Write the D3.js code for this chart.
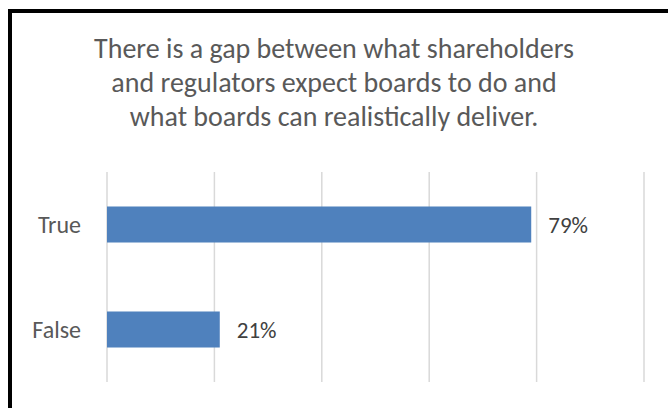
<!DOCTYPE html>
<html>
<head>
<meta charset="utf-8">
<script src="https://cdn.jsdelivr.net/npm/d3@7"></script>
<style>
  body { margin: 0; background: #fff; }
  text { font-family: Carlito, Lato, "Open Sans", sans-serif; }
</style>
</head>
<body>
<div id="chart"></div>
<script>
// data
const categories = ["True", "False"];
const values = [0.79, 0.21];
const ticks = [0, 0.2, 0.4, 0.6, 0.8, 1.0];
const titleLines = [
  "There is a gap between what shareholders",
  "and regulators expect boards to do and",
  "what boards can realistically deliver."
];

const W = 668, H = 408;

const svg = d3.select("#chart")
    .append("svg")
    .attr("width", W)
    .attr("height", H);

svg.append("rect").attr("width", W).attr("height", H).attr("fill", "#fff");

// frame: only left and top sides are in view
svg.append("rect")
    .attr("x", 10).attr("y", 11)
    .attr("width", 700).attr("height", 450)
    .attr("fill", "none")
    .attr("stroke", "#000")
    .attr("stroke-width", 4);

// title
svg.append("text")
    .attr("text-anchor", "middle")
    .attr("fill", "#595959")
    .style("font-size", "28px")
    .selectAll("tspan")
    .data(titleLines)
    .join("tspan")
    .attr("x", 334)
    .attr("y", (d, i) => 58 + i * 34)
    .text(d => d);

// scales
const x = d3.scaleLinear().domain([0, 1]).range([107, 644]);
const y = d3.scaleBand()
    .domain(categories)
    .range([172, 382])
    .paddingInner(0.657)
    .paddingOuter(0.3285);

// vertical gridlines
svg.append("g")
    .selectAll("line")
    .data(ticks)
    .join("line")
    .attr("x1", d => x(d)).attr("x2", d => x(d))
    .attr("y1", 172).attr("y2", 382)
    .attr("stroke", "#d9d9d9")
    .attr("stroke-width", 1.5);

// bars
svg.append("g")
    .selectAll("rect")
    .data(categories)
    .join("rect")
    .attr("x", x(0))
    .attr("y", d => y(d))
    .attr("width", (d, i) => x(values[i]) - x(0))
    .attr("height", y.bandwidth())
    .attr("fill", "#4f81bd");

// category labels
svg.append("g")
    .selectAll("text")
    .data(categories)
    .join("text")
    .attr("x", 81)
    .attr("y", d => y(d) + y.bandwidth() / 2)
    .attr("dy", "0.35em")
    .attr("text-anchor", "end")
    .attr("fill", "#595959")
    .style("font-size", "24px")
    .text(d => d);

// value labels
svg.append("g")
    .selectAll("text")
    .data(categories)
    .join("text")
    .attr("x", (d, i) => x(values[i]) + 17)
    .attr("y", d => y(d) + y.bandwidth() / 2)
    .attr("dy", "0.35em")
    .attr("fill", "#404040")
    .style("font-size", "23px")
    .text((d, i) => d3.format(".0%")(values[i]));
</script>
</body>
</html>
